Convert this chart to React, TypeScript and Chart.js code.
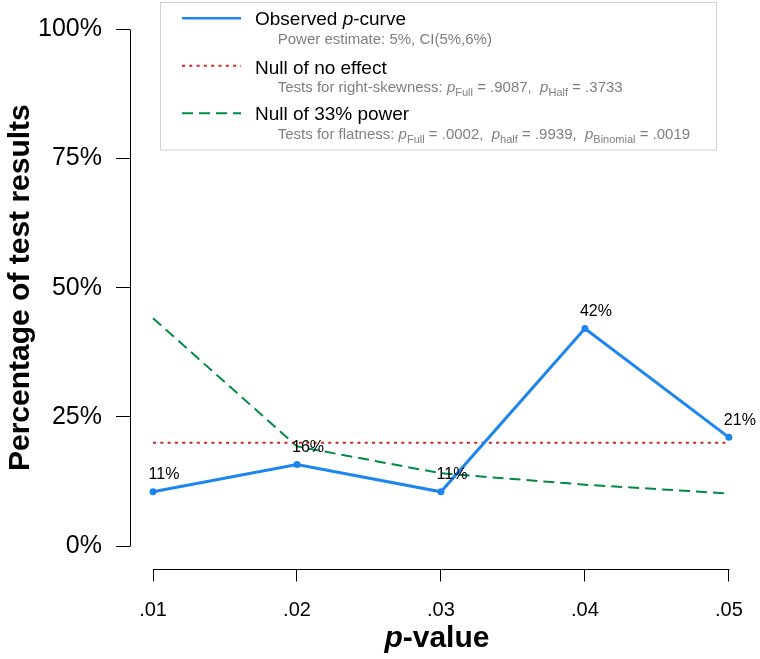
import React, { useEffect, useRef } from "react";
import { Chart, registerables } from "chart.js";

Chart.register(...registerables);

// ---- data ----
const pValues = [0.01, 0.02, 0.03, 0.04, 0.05];
const xTickLabels = [".01", ".02", ".03", ".04", ".05"];
const yTickValues = [0, 25, 50, 75, 100];
const yTickLabels = ["0%", "25%", "50%", "75%", "100%"];
const observed = [10.53, 15.79, 10.53, 42.11, 21.05];
const nullNoEffect = [20, 20, 20, 20, 20];
const null33 = [44.1, 19.3, 14.1, 11.9, 10.2];

const xTitle = [
  { t: "p", italic: true },
  { t: "-value" },
];
const yTitle = "Percentage of test results";

type Run = { t: string; italic?: boolean; sub?: boolean };
const legendTitles: Run[][] = [
  [{ t: "Observed " }, { t: "p", italic: true }, { t: "-curve" }],
  [{ t: "Null of no effect" }],
  [{ t: "Null of 33% power" }],
];
const legendSubs: Run[][] = [
  [{ t: "Power estimate: 5%, CI(5%,6%)" }],
  [
    { t: "Tests for right-skewness: " },
    { t: "p", italic: true },
    { t: "Full", sub: true },
    { t: " = .9087,  " },
    { t: "p", italic: true },
    { t: "Half", sub: true },
    { t: " = .3733" },
  ],
  [
    { t: "Tests for flatness: " },
    { t: "p", italic: true },
    { t: "Full", sub: true },
    { t: " = .0002,  " },
    { t: "p", italic: true },
    { t: "half", sub: true },
    { t: " = .9939,  " },
    { t: "p", italic: true },
    { t: "Binomial", sub: true },
    { t: " = .0019" },
  ],
];

const FONT = "'Liberation Sans', Arial, Helvetica, sans-serif";
const BLUE = "#1C86EE";
const RED = "#CD2626";
const GREEN = "#008B45";

function drawRuns(
  ctx: CanvasRenderingContext2D,
  runs: Run[],
  x: number,
  y: number,
  size: number,
  bold = false
) {
  let cx = x;
  for (const r of runs) {
    const s = r.sub ? Math.round(size * 0.75) : size;
    ctx.font = `${r.italic ? "italic " : ""}${bold ? "bold " : ""}${s}px ${FONT}`;
    ctx.fillText(r.t, cx, y + (r.sub ? size * 0.28 : 0));
    cx += ctx.measureText(r.t).width;
  }
  return cx - x;
}

function measureRuns(ctx: CanvasRenderingContext2D, runs: Run[], size: number, bold = false) {
  let w = 0;
  for (const r of runs) {
    const s = r.sub ? Math.round(size * 0.75) : size;
    ctx.font = `${r.italic ? "italic " : ""}${bold ? "bold " : ""}${s}px ${FONT}`;
    w += ctx.measureText(r.t).width;
  }
  return w;
}

const decorPlugin = {
  id: "decor",
  beforeDatasetsDraw(chart: any) {
    const ctx: CanvasRenderingContext2D = chart.ctx;
    const xs = chart.scales.x;
    const ys = chart.scales.y;
    const area = chart.chartArea;
    ctx.save();
    ctx.strokeStyle = "#000";
    ctx.lineWidth = 1;
    const ax = Math.round(area.left) + 0.5;
    ctx.beginPath();
    ctx.moveTo(ax, Math.round(ys.getPixelForValue(yTickValues[0])) + 0.5);
    ctx.lineTo(ax, Math.round(ys.getPixelForValue(yTickValues[yTickValues.length - 1])) + 0.5);
    ctx.stroke();
    const ay = Math.round(area.bottom) + 0.5;
    ctx.beginPath();
    ctx.moveTo(Math.round(xs.getPixelForValue(pValues[0])) + 0.5, ay);
    ctx.lineTo(Math.round(xs.getPixelForValue(pValues[pValues.length - 1])) + 0.5, ay);
    ctx.stroke();
    ctx.restore();
  },
  afterDraw(chart: any) {
    const ctx: CanvasRenderingContext2D = chart.ctx;
    const xs = chart.scales.x;
    const ys = chart.scales.y;
    ctx.save();
    ctx.fillStyle = "#000";
    ctx.textBaseline = "alphabetic";

    // data labels
    const meta = chart.getDatasetMeta(0);
    ctx.font = `16px ${FONT}`;
    ctx.textAlign = "center";
    meta.data.forEach((pt: any, i: number) => {
      ctx.fillText(Math.round(observed[i]) + "%", pt.x + 11, pt.y - 12.4);
    });

    // x title
    ctx.textAlign = "left";
    const xw = measureRuns(ctx, xTitle, 30, true);
    const xc = xs.getPixelForValue(pValues[2]) - 4;
    drawRuns(ctx, xTitle, xc - xw / 2, 647, 30, true);

    // y title
    ctx.save();
    ctx.translate(28.5, ys.getPixelForValue(50));
    ctx.rotate(-Math.PI / 2);
    ctx.textAlign = "center";
    ctx.font = `bold 30px ${FONT}`;
    ctx.fillText(yTitle, 0, 0);
    ctx.restore();

    // legend box
    ctx.strokeStyle = "#d3d3d3";
    ctx.lineWidth = 1;
    ctx.strokeRect(160.5, 2.5, 556, 147.5);

    const lineYs = [18.3, 65.7, 113.3];
    const titleBase = [24.5, 73.5, 119.5];
    const subBase = [44, 91.5, 139];
    const styles = [
      { c: BLUE, w: 2.5, dash: [] as number[] },
      { c: RED, w: 2, dash: [3, 4.3] },
      { c: GREEN, w: 2, dash: [11, 6] },
    ];
    ctx.textAlign = "left";
    for (let i = 0; i < 3; i++) {
      ctx.strokeStyle = styles[i].c;
      ctx.lineWidth = styles[i].w;
      ctx.setLineDash(styles[i].dash);
      ctx.beginPath();
      ctx.moveTo(182, lineYs[i]);
      ctx.lineTo(241, lineYs[i]);
      ctx.stroke();
      ctx.setLineDash([]);
      ctx.fillStyle = "#000";
      drawRuns(ctx, legendTitles[i], 255, titleBase[i], 19);
      ctx.fillStyle = "#7f7f7f";
      drawRuns(ctx, legendSubs[i], 277.7, subBase[i], 15);
    }
    ctx.restore();
  },
};

export default function App() {
  const ref = useRef<HTMLCanvasElement | null>(null);
  useEffect(() => {
    if (!ref.current) return;
    const chart = new Chart(ref.current, {
      type: "line",
      data: {
        datasets: [
          {
            label: "Observed p-curve",
            data: pValues.map((p, i) => ({ x: p, y: observed[i] })),
            borderColor: BLUE,
            backgroundColor: BLUE,
            borderWidth: 3,
            pointRadius: 3.5,
            pointBorderWidth: 0,
            pointBackgroundColor: BLUE,
            tension: 0,
          },
          {
            label: "Null of no effect",
            data: pValues.map((p, i) => ({ x: p, y: nullNoEffect[i] })),
            borderColor: RED,
            borderWidth: 2,
            borderDash: [3, 4.3],
            pointRadius: 0,
            tension: 0,
          },
          {
            label: "Null of 33% power",
            data: pValues.map((p, i) => ({ x: p, y: null33[i] })),
            borderColor: GREEN,
            borderWidth: 2,
            borderDash: [11, 6],
            pointRadius: 0,
            tension: 0,
          },
        ],
      },
      options: {
        responsive: false,
        animation: false,
        devicePixelRatio: 1,
        layout: { padding: { top: 18, right: 6, left: 0, bottom: 0 } },
        plugins: {
          legend: { display: false },
          tooltip: { enabled: false },
        },
        scales: {
          x: {
            type: "linear",
            min: 0.0084,
            max: 0.0516,
            afterFit: (s: any) => {
              s.height = 90;
            },
            afterBuildTicks: (s: any) => {
              s.ticks = pValues.map((v) => ({ value: v }));
            },
            border: { display: false },
            grid: {
              display: true,
              drawOnChartArea: false,
              drawTicks: true,
              tickLength: 12.5,
              color: "#000",
              lineWidth: 1,
            },
            ticks: {
              autoSkip: false,
              maxRotation: 0,
              padding: 17,
              color: "#000",
              font: { family: FONT, size: 20 },
              callback: (_v: any, i: number) => xTickLabels[i],
            },
          },
          y: {
            type: "linear",
            min: -4.4,
            max: 100,
            afterFit: (s: any) => {
              s.width = 130;
            },
            afterBuildTicks: (s: any) => {
              s.ticks = yTickValues.map((v) => ({ value: v }));
            },
            border: { display: false },
            grid: {
              display: true,
              drawOnChartArea: false,
              drawTicks: true,
              tickLength: 14,
              color: "#000",
              lineWidth: 1,
            },
            ticks: {
              autoSkip: false,
              padding: 14,
              color: "#000",
              font: { family: FONT, size: 25 },
              callback: (_v: any, i: number) => yTickLabels[i],
            },
          },
        },
      },
      plugins: [decorPlugin],
    } as any);
    return () => chart.destroy();
  }, []);
  return (
    <div style={{ position: "absolute", left: 0, top: 0, width: 760, height: 659, background: "#fff" }}>
      <canvas ref={ref} width={760} height={659} />
    </div>
  );
}
